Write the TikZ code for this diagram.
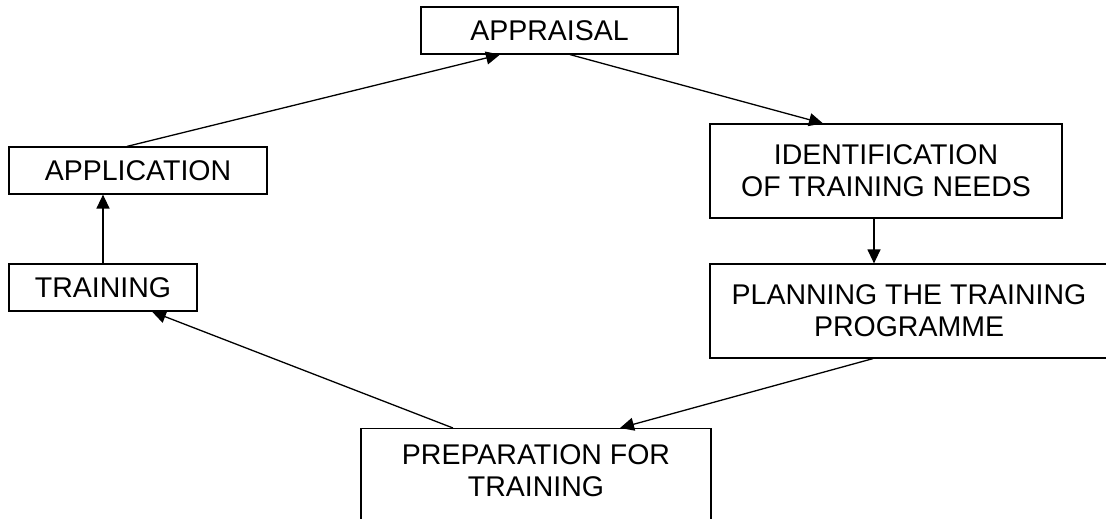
\documentclass[tikz,border=0pt]{standalone}
\usepackage{fontspec}
\setmainfont{Liberation Sans}
\usetikzlibrary{arrows.meta}

\tikzset{
	stage/.style={draw, line width=1.2pt, align=center, inner sep=0pt,
		font=\fontsize{28.5}{32}\selectfont},
	flow/.style={-{Triangle[length=14pt,width=13pt]}, line width=1.3pt}
}

\begin{document}
\begin{tikzpicture}[x=1pt, y=-1pt]
	% Frame of the page
	\useasboundingbox (0,0) rectangle (1106,519);
	
	% Stages of the cycle
	\node[stage, minimum width=257pt, minimum height=47pt] (appraisal) at (549.5,30.5) {APPRAISAL};
	\node[stage, minimum width=352pt, minimum height=94pt] (needs) at (886,171) {IDENTIFICATION\\OF TRAINING NEEDS};
	\node[stage, minimum width=398pt, minimum height=94pt] (planning) at (909,311) {PLANNING THE TRAINING\\PROGRAMME};
	\node[stage, minimum width=350pt, anchor=north, text depth=70pt, inner ysep=16pt] (preparation) at (536,428) {PREPARATION FOR\\TRAINING};
	\node[stage, minimum width=188pt, minimum height=47pt] (training) at (103,287.5) {TRAINING};
	\node[stage, minimum width=258pt, minimum height=47pt] (application) at (138,170.5) {APPLICATION};
	
	% Arrows round the cycle
	\draw[flow] ([xshift=20.5pt]appraisal.south) -- ([xshift=-63pt]needs.north);
	\draw[flow] ([xshift=-12pt]needs.south) -- ([xshift=-12pt]needs.south |- planning.north);
	\draw[flow] ([xshift=-36pt]planning.south) -- ([xshift=84pt]preparation.north);
	\draw[flow] ([xshift=-83pt]preparation.north) -- ([xshift=49pt]training.south);
	\draw[flow] (training.north) -- (training.north |- application.south);
	\draw[flow] ([xshift=-11pt]application.north) -- ([xshift=-49.5pt]appraisal.south);
	
\end{tikzpicture}
\end{document}
